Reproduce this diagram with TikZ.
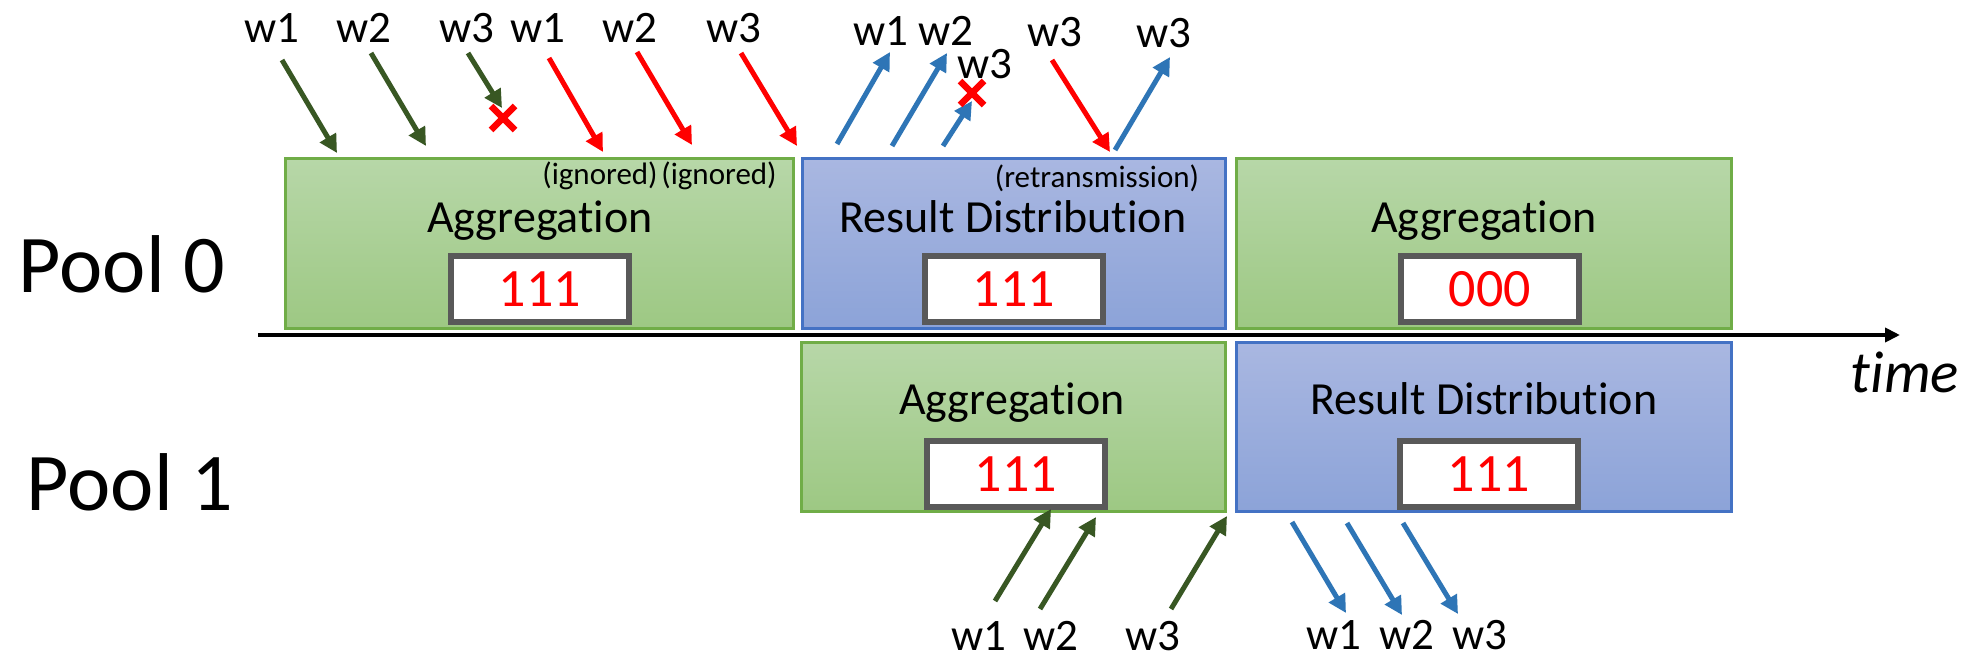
\documentclass[tikz,border=0pt]{standalone}
\usepackage{fontspec}
\setmainfont{Carlito}[Ligatures={NoCommon}]
\usetikzlibrary{arrows.meta}

\definecolor{aggtop}{RGB}{183,215,168}
\definecolor{aggbot}{RGB}{157,200,131}
\definecolor{aggline}{RGB}{112,173,71}
\definecolor{distop}{RGB}{169,183,225}
\definecolor{disbot}{RGB}{140,163,216}
\definecolor{disline}{RGB}{68,114,196}
\definecolor{upgreen}{RGB}{56,87,35}
\definecolor{downblue}{RGB}{46,117,182}
\definecolor{regline}{RGB}{89,89,89}
\definecolor{lossred}{RGB}{255,0,0}

\begin{document}
\begin{tikzpicture}[x=1pt,y=-1pt,
  phase/.style={rectangle, inner sep=0pt, line width=3pt},
  aggbox/.style={phase, draw=aggline, top color=aggtop, bottom color=aggbot},
  disbox/.style={phase, draw=disline, top color=distop, bottom color=disbot},
  reg/.style={rectangle, draw=regline, fill=white, line width=6pt,
    minimum width=178pt, minimum height=66pt, inner sep=0pt,
    text height=34pt, text depth=0pt, text=lossred,
    font=\fontsize{54}{60}\selectfont},
  phaselab/.style={font=\fontsize{46}{50}\selectfont, inner sep=0pt, anchor=base},
  note/.style={font=\fontsize{31}{34}\selectfont, inner sep=0pt, anchor=base},
  wlab/.style={font=\fontsize{45}{50}\selectfont, inner sep=0pt, anchor=base},
  poollab/.style={font=\fontsize{82}{90}\selectfont, inner sep=0pt, anchor=base},
  msg/.style={line width=5pt, -{Triangle[length=18pt,width=18pt]}},
  grad/.style={msg, draw=upgreen},
  stale/.style={msg, draw=lossred},
  result/.style={msg, draw=downblue},
  lost/.style={draw=lossred, line width=6.5pt},
  axis/.style={line width=4pt, -{Triangle[length=15pt,width=14pt]}}
]
\useasboundingbox[fill=white] (0,0) rectangle (1972,659);

% phase boxes of the two pools
\node[aggbox, minimum width=508pt, minimum height=170pt] (p0agg) at (539.5,243.5) {};
\node[disbox, minimum width=423pt, minimum height=170pt] (p0dis) at (1014,243.5) {};
\node[aggbox, minimum width=495pt, minimum height=170pt] (p0agg2) at (1484,243.5) {};
\node[aggbox, minimum width=424pt, minimum height=169pt] (p1agg) at (1013.5,427) {};
\node[disbox, minimum width=495pt, minimum height=169pt] (p1dis) at (1484,427) {};

% phase names
\node[phaselab] (l0agg) at (540,232) {Aggregation};
\node[phaselab] (l0dis) at (1013,232) {Result Distribution};
\node[phaselab] (l0agg2) at (1484,232) {Aggregation};
\node[phaselab] (l1agg) at (1012,414) {Aggregation};
\node[phaselab] (l1dis) at (1484,414) {Result Distribution};

% register contents
\node[reg] (r0agg) at (540,289) {111};
\node[reg] (r0dis) at (1014,289) {111};
\node[reg] (r0agg2) at (1490,289) {000};
\node[reg] (r1agg) at (1016,474) {111};
\node[reg] (r1dis) at (1489,474) {111};

% small notes
\node[note] (ign1) at (600,184) {(ignored)};
\node[note] (ign2) at (719,184) {(ignored)};
\node[note] (retx) at (1097,187) {(retransmission)};

% pool names
\node[poollab] (pool0) at (122,292) {Pool 0};
\node[poollab] (pool1) at (130,510) {Pool 1};

% time axis
\coordinate (t0) at (258,335);
\coordinate (t1) at (1900,335);
\draw[axis] (t0) -- (t1);
\node[font=\fontsize{59}{62}\selectfont\itshape, inner sep=0pt, anchor=base] (time) at (1905,392) {time};

% worker labels, pool 0
\node[wlab] (a1) at (272,42) {w1};
\node[wlab] (a2) at (364,42) {w2};
\node[wlab] (a3) at (467,42) {w3};
\node[wlab] (b1) at (538,42) {w1};
\node[wlab] (b2) at (630,42) {w2};
\node[wlab] (b3) at (734,42) {w3};
\node[wlab] (c1) at (881,45) {w1};
\node[wlab] (c2) at (946,45) {w2};
\node[wlab] (c3) at (985,78) {w3};
\node[wlab] (d3) at (1055,46) {w3};
\node[wlab] (e3) at (1164,47) {w3};

% worker labels, pool 1
\node[wlab] (f1) at (979,650) {w1};
\node[wlab] (f2) at (1051,650) {w2};
\node[wlab] (f3) at (1153,650) {w3};
\node[wlab] (g1) at (1334,649) {w1};
\node[wlab] (g2) at (1407,649) {w2};
\node[wlab] (g3) at (1480,649) {w3};

% message end points
\coordinate (a1s) at (282,60);   \coordinate (a1t) at (337,153);
\coordinate (a2s) at (371,53);   \coordinate (a2t) at (426,146);
\coordinate (a3s) at (468,53);   \coordinate (a3t) at (502,108);
\coordinate (b1s) at (549,58);   \coordinate (b1t) at (603,152);
\coordinate (b2s) at (637,52);   \coordinate (b2t) at (692,145);
\coordinate (b3s) at (741,53);   \coordinate (b3t) at (797,146);
\coordinate (c1s) at (837,144);  \coordinate (c1t) at (890,52);
\coordinate (c2s) at (892,146);  \coordinate (c2t) at (947,53);
\coordinate (c3s) at (943,146);  \coordinate (c3t) at (972,101);
\coordinate (d3s) at (1052,60);  \coordinate (d3t) at (1110,152);
\coordinate (e3s) at (1115,150); \coordinate (e3t) at (1170,57);
\coordinate (f1s) at (995,601);  \coordinate (f1t) at (1051,509);
\coordinate (f2s) at (1040,609); \coordinate (f2t) at (1096,517);
\coordinate (f3s) at (1171,609); \coordinate (f3t) at (1227,516);
\coordinate (g1s) at (1292,522); \coordinate (g1t) at (1346,613);
\coordinate (g2s) at (1347,523); \coordinate (g2t) at (1402,615);
\coordinate (g3s) at (1403,523); \coordinate (g3t) at (1458,614);

% gradients sent to pool 0
\draw[grad] (a1s) -- (a1t);
\draw[grad] (a2s) -- (a2t);
\draw[grad] (a3s) -- (a3t);
\draw[stale] (b1s) -- (b1t);
\draw[stale] (b2s) -- (b2t);
\draw[stale] (b3s) -- (b3t);
\draw[stale] (d3s) -- (d3t);

% results sent back by pool 0
\draw[result] (c1s) -- (c1t);
\draw[result] (c2s) -- (c2t);
\draw[result] (c3s) -- (c3t);
\draw[result] (e3s) -- (e3t);

% pool 1 traffic
\draw[grad] (f1s) -- (f1t);
\draw[grad] (f2s) -- (f2t);
\draw[grad] (f3s) -- (f3t);
\draw[result] (g1s) -- (g1t);
\draw[result] (g2s) -- (g2t);
\draw[result] (g3s) -- (g3t);

% packet losses
\coordinate (x1) at (503,118);
\coordinate (x2) at (972,93);
\draw[lost] (x1) ++(-12,-12) -- ++(24,24);
\draw[lost] (x1) ++(-12,12) -- ++(24,-24);
\draw[lost] (x2) ++(-12,-12) -- ++(24,24);
\draw[lost] (x2) ++(-12,12) -- ++(24,-24);
\end{tikzpicture}
\end{document}
